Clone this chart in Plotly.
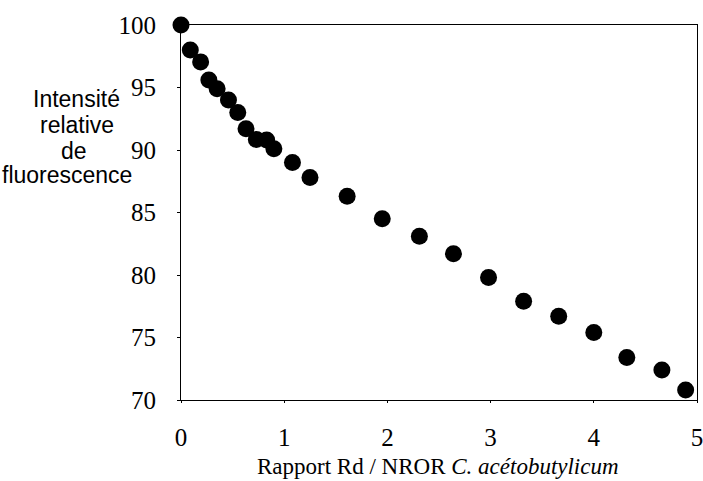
import plotly.graph_objects as go

ratio = [0.0, 0.09, 0.19, 0.27, 0.35, 0.46, 0.55, 0.63, 0.73, 0.83, 0.90,
         1.08, 1.25, 1.61, 1.95, 2.31, 2.64, 2.98, 3.32, 3.66, 4.0, 4.32, 4.66, 4.89]
intensity = [100.0, 98.0, 97.05, 95.6, 94.9, 94.0, 93.0, 91.7, 90.85, 90.8, 90.1,
             89.0, 87.8, 86.3, 84.5, 83.1, 81.7, 79.8, 77.9, 76.7, 75.4, 73.4, 72.4, 70.8]
x_ticks = [0, 1, 2, 3, 4, 5]
y_ticks = [70, 75, 80, 85, 90, 95, 100]
y_title_lines = ["Intensité", "relative", "de", "fluorescence"]
x_title = "Rapport Rd / NROR <i>C. acétobutylicum</i>"

W, H = 703, 481
ML, MR, MT, MB = 181, 0, 25, 81

fig = go.Figure()
fig.add_trace(go.Scatter(
    x=ratio, y=intensity, mode="markers",
    marker=dict(size=17, color="black"),
    cliponaxis=False, showlegend=False,
))

serif = "Liberation Serif, Times New Roman, serif"
sans = "Liberation Sans, Arial, sans-serif"

fig.update_layout(
    width=W, height=H,
    margin=dict(l=ML, r=MR, t=MT, b=MB, pad=0),
    paper_bgcolor="white", plot_bgcolor="white",
    xaxis=dict(range=[0, 5], tickvals=x_ticks, showgrid=False, zeroline=False,
               showline=True, mirror=True, linecolor="black", linewidth=1,
               ticks="outside", ticklen=2, tickcolor="black",
               ticklabelstandoff=13, ticklabeloverflow="allow",
               tickfont=dict(family=serif, size=25, color="black")),
    yaxis=dict(range=[70, 100], tickvals=y_ticks, showgrid=False, zeroline=False,
               showline=True, mirror=True, linecolor="black", linewidth=1,
               ticks="outside", ticklen=3, tickcolor="black",
               ticklabelstandoff=16, ticklabeloverflow="allow",
               tickfont=dict(family=serif, size=25, color="black")),
)

pw = W - ML - MR
ph = H - MT - MB
y_positions = [99, 125, 151, 175]
x_centers = [75, 76, 73, 66]
for line, ypx, xpx in zip(y_title_lines, y_positions, x_centers):
    fig.add_annotation(
        text=line, xref="paper", yref="paper",
        x=(xpx - ML) / pw, y=1 - (ypx - MT) / ph,
        xanchor="center", yanchor="middle", showarrow=False,
        font=dict(family=sans, size=23, color="black"),
    )

fig.add_annotation(
    text=x_title, xref="paper", yref="paper",
    x=(441 - ML) / pw, y=-(466 - (H - MB)) / ph,
    xanchor="center", yanchor="middle", showarrow=False,
    font=dict(family=serif, size=23, color="black"),
)

fig.write_html("out.html", config={"displayModeBar": False},
               post_script="document.body.style.margin='0';document.body.style.overflow='hidden';")
